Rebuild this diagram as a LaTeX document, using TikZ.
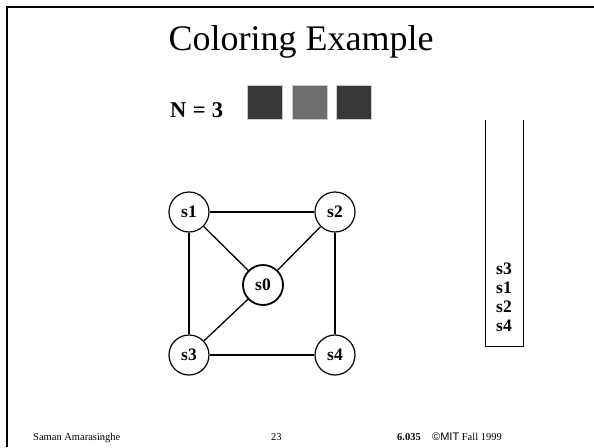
\documentclass[tikz,border=0pt]{standalone}
\usepackage{fontspec}
\setmainfont{Liberation Serif}
\newfontfamily\arialfont{Liberation Sans}
\begin{document}
\begin{tikzpicture}[x=1pt,y=-1pt,
  vert/.style={circle,draw,line width=1.2pt,minimum size=40pt,inner sep=0pt,font=\fontsize{17.5}{17.5}\selectfont\bfseries},
  edge/.style={line width=1.3pt},
  swatch/.style={draw=gray!40,line width=0.6pt,minimum width=35pt,minimum height=34pt,inner sep=0pt},
  stk/.style={font=\fontsize{17.5}{17.5}\selectfont\bfseries,anchor=base west,inner sep=0pt},
  foot/.style={font=\fontsize{10.5}{11}\selectfont,anchor=base west,inner sep=0pt}]
\useasboundingbox (0,0) rectangle (594,447);
% frame
\draw[line width=2pt] (7,447) -- (7,7) -- (594,7);
% title
\node[font=\fontsize{36}{38}\selectfont,anchor=base,inner sep=0pt] (title) at (301,50) {Coloring Example};
\node[font=\fontsize{22.5}{23}\selectfont\bfseries,anchor=base west,inner sep=0pt] (n) at (170,117) {N\hspace{6.5pt}=\hspace{6pt}3};
\node[swatch,fill=black!78] (c1) at (265,102) {};
\node[swatch,fill=black!57] (c2) at (310,102) {};
\node[swatch,fill=black!78] (c3) at (354,102) {};
% graph
\node[vert] (s1) at (189,212) {s1};
\node[vert] (s2) at (335,212) {s2};
\node[vert,line width=1.8pt] (s0) at (263,285) {s0};
\node[vert] (s3) at (189,355) {s3};
\node[vert] (s4) at (335,355) {s4};
\draw[edge] (s1) -- (s2);
\draw[edge] (s1) -- (s3);
\draw[edge] (s2) -- (s4);
\draw[edge] (s3) -- (s4);
\draw[edge] (s1) -- (s0);
\draw[edge] (s2) -- (s0);
\draw[edge] (s3) -- (s0);
% stack
\coordinate (tl) at (485,120);
\coordinate (tr) at (523,120);
\draw[line width=1pt] (tl) -- (485,346) -- (523,346) -- (tr);
\node[stk] (k1) at (496,274) {s3};
\node[stk] (k2) at (496,293) {s1};
\node[stk] (k3) at (496,312) {s2};
\node[stk] (k4) at (496,331) {s4};
% footer
\node[foot] (f1) at (33,440) {Saman Amarasinghe};
\node[foot] (f2) at (271,440) {23};
\node[foot] (f3) at (397,440) {\textbf{6.035}};
\node[foot] (f4) at (432,440) {{\arialfont\fontsize{11}{11}\selectfont\textcopyright MIT} Fall 1999};
\end{tikzpicture}
\end{document}
